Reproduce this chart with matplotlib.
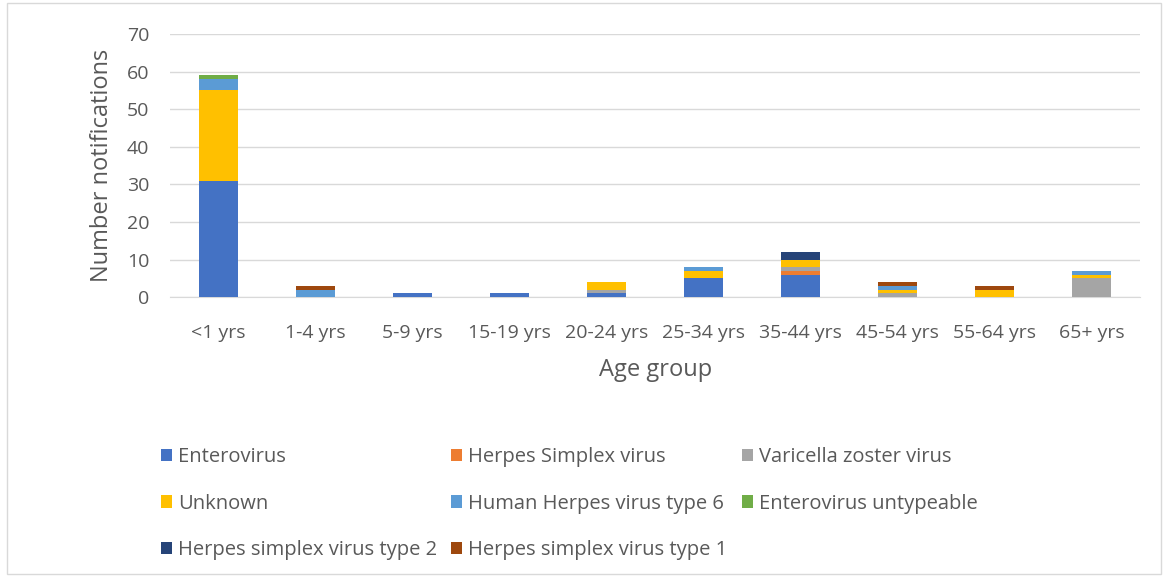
import numpy as np
import matplotlib.pyplot as plt
from matplotlib.patches import Rectangle

plt.rcParams['font.family'] = ['Open Sans', 'DejaVu Sans']

# Data
age_groups = ['<1 yrs', '1-4 yrs', '5-9 yrs', '15-19 yrs', '20-24 yrs',
              '25-34 yrs', '35-44 yrs', '45-54 yrs', '55-64 yrs', '65+ yrs']
series_names = ['Enterovirus', 'Herpes Simplex virus', 'Varicella zoster virus',
                'Unknown', 'Human Herpes virus type 6', 'Enterovirus untypeable',
                'Herpes simplex virus type 2', 'Herpes simplex virus type 1']
enterovirus = [31, 0, 1, 1, 1, 5, 6, 0, 0, 0]
hsv = [0, 0, 0, 0, 0, 0, 1, 0, 0, 0]
vzv = [0, 0, 0, 0, 1, 0, 1, 1, 0, 5]
unknown = [24, 0, 0, 0, 2, 2, 2, 1, 2, 1]
hhv6 = [3, 2, 0, 0, 0, 1, 0, 1, 0, 1]
untypeable = [1, 0, 0, 0, 0, 0, 0, 0, 0, 0]
hsv2 = [0, 0, 0, 0, 0, 0, 2, 0, 0, 0]
hsv1 = [0, 1, 0, 0, 0, 0, 0, 1, 1, 0]
series = [enterovirus, hsv, vzv, unknown, hhv6, untypeable, hsv2, hsv1]
colors = ['#4472C4', '#ED7D31', '#A5A5A5', '#FFC000', '#5B9BD5', '#70AD47',
          '#264478', '#9E480E']

fig = plt.figure(figsize=(11.66, 5.76), dpi=100)
ax = fig.add_axes([0.146, 0.484, 0.832, 0.457])

x = np.arange(len(age_groups))
bottom = np.zeros(len(age_groups))
handles = []
for vals, name, c in zip(series, series_names, colors):
    vals = np.array(vals, dtype=float)
    h = ax.bar(x, vals, 0.4, bottom=bottom, color=c, label=name, zorder=3)
    handles.append(h)
    bottom += vals

ax.set_ylim(0, 70)
ax.set_yticks(range(0, 71, 10))
ax.set_xlim(-0.5, len(age_groups) - 0.5)
ax.set_xticks(x)
ax.set_xticklabels(age_groups)
ax.grid(axis='y', color='#D9D9D9', linewidth=1, zorder=0)
for s in ['top', 'right', 'left']:
    ax.spines[s].set_visible(False)
ax.spines['bottom'].set_color('#D9D9D9')
ax.tick_params(length=0, labelsize=14, colors='#595959')
ax.tick_params(axis='x', pad=19)
ax.tick_params(axis='y', pad=15)
ax.set_ylabel('Number notifications', fontsize=17, color='#595959', labelpad=9)
ax.set_xlabel('Age group', fontsize=17, color='#595959', labelpad=12)

# legend in row-major order like Excel
order = [0, 3, 6, 1, 4, 7, 2, 5]
fig.legend([handles[i] for i in order], [series_names[i] for i in order],
           ncol=3, loc='upper left', bbox_to_anchor=(161 / 1166, 1 - 447 / 576),
           frameon=False, fontsize=14.5, labelcolor='#595959',
           borderpad=0, borderaxespad=0,
           handlelength=0.55, handleheight=0.55, handletextpad=0.3,
           columnspacing=0.7, labelspacing=1.32)

fig.patches.append(Rectangle((0.006, 0.004), 0.99, 0.99, transform=fig.transFigure,
                             fill=False, edgecolor='#D9D9D9', linewidth=1))

fig.savefig('out.png', dpi=100)
